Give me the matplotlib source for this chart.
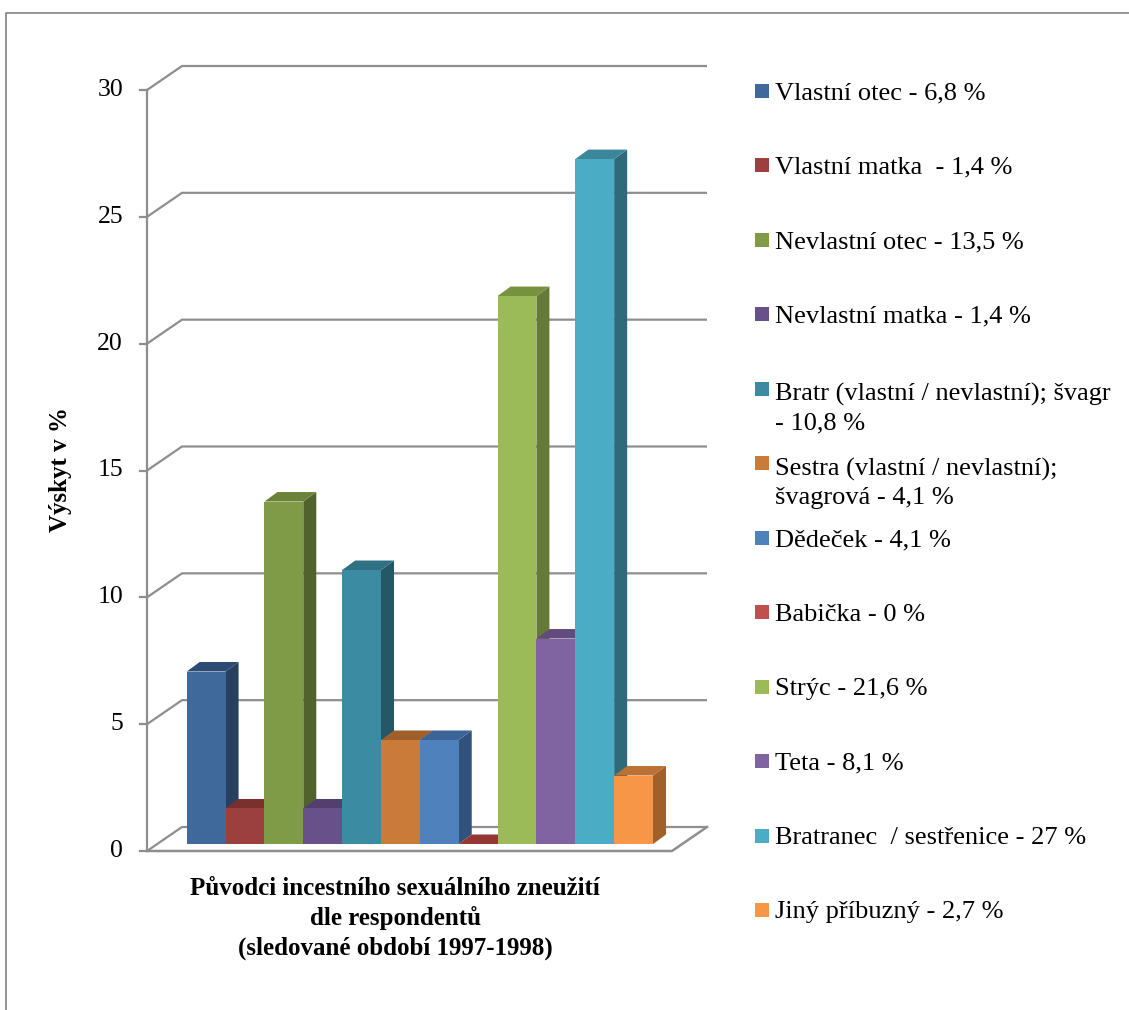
import matplotlib
matplotlib.use("Agg")
import matplotlib.pyplot as plt
from matplotlib.patches import Polygon, Rectangle
from matplotlib.lines import Line2D

# ---- data ----
categories = [
    "Vlastní otec - 6,8 %",
    "Vlastní matka  - 1,4 %",
    "Nevlastní otec - 13,5 %",
    "Nevlastní matka - 1,4 %",
    "Bratr (vlastní / nevlastní); švagr\n- 10,8 %",
    "Sestra (vlastní / nevlastní);\nšvagrová - 4,1 %",
    "Dědeček - 4,1 %",
    "Babička - 0 %",
    "Strýc - 21,6 %",
    "Teta - 8,1 %",
    "Bratranec  / sestřenice - 27 %",
    "Jiný příbuzný - 2,7 %",
]
values = [6.8, 1.4, 13.5, 1.4, 10.8, 4.1, 4.1, 0.0, 21.6, 8.1, 27.0, 2.7]
y_ticks = [0, 5, 10, 15, 20, 25, 30]
y_label = "Výskyt v %"
x_title = "Původci incestního sexuálního zneužití\ndle respondentů\n(sledované období 1997-1998)"

front_colors = ["#3F689B", "#9B403E", "#809B47", "#68518A", "#3B8CA3", "#CB7B39",
                "#4F81BD", "#C0504D", "#9BBB59", "#8064A2", "#4BACC6", "#F79646"]
side_colors = ["#283F5E", "#6E2C2B", "#52622D", "#47385F", "#255867", "#8F5628",
               "#31527A", "#8A3937", "#657A36", "#5A466F", "#2F6A7A", "#A15F2A"]
top_colors = ["#2D4C75", "#7A302F", "#6B8339", "#533F6F", "#2F7083", "#9E5F2B",
              "#3D6496", "#943836", "#77923F", "#624C7D", "#3A879C", "#BB7133"]

W, H = 1129, 1010
FONT = "Liberation Serif"
GRID = "#8E8E8E"

fig = plt.figure(figsize=(W / 100, H / 100), dpi=100)
fx = lambda x: x / W
fy = lambda y: 1 - y / H

# axes: front plane of the value axis
ax_left_px, ax_right_px, ax_top_px, ax_bot_px = 147, 672, 90, 851
ax = fig.add_axes([fx(ax_left_px), fy(ax_bot_px), (ax_right_px - ax_left_px) / W,
                   (ax_bot_px - ax_top_px) / H])
ax.axis("off")
bar_px = 38.86
px_per_unit = (ax_bot_px - ax_top_px) / 30.0
xl = -0.5 - (176.5 - ax_left_px) / bar_px
xr = xl + (ax_right_px - ax_left_px) / bar_px
ax.set_xlim(xl, xr)
ax.set_ylim(0, 30)

# depth offsets (data units)
def off(dx_px, dy_px):
    return dx_px / bar_px, dy_px / px_per_unit

wall_dx, wall_dy = off(35, 24)
bar_ox, bar_oy = off(10.2, 7)
dep_dx, dep_dy = off(13, 9.5)

# back wall gridlines with left wall diagonals
for v in y_ticks:
    xs = [xl, xl + wall_dx, xr + wall_dx]
    ys = [v, v + wall_dy, v + wall_dy]
    ax.plot(xs, ys, color=GRID, lw=1.6, clip_on=False, solid_capstyle="butt", zorder=1)

# floor front edge and right diagonal
ax.plot([xl, xr, xr + wall_dx], [0, 0, wall_dy], color=GRID, lw=1.8, clip_on=False, zorder=1)

# value axis line and ticks
ax.plot([xl, xl], [0, 30], color=GRID, lw=1.6, clip_on=False, zorder=1)
tick_len = 7 / bar_px
for v in y_ticks:
    ax.plot([xl - tick_len, xl], [v, v], color=GRID, lw=1.6, clip_on=False, zorder=1)
    ax.text(xl - 24 / bar_px, v, str(v), ha="right", va="center",
            fontsize=18.5, family=FONT, clip_on=False)

# bars (left to right; later bars overlap earlier side faces)
z = 2
for i, v in enumerate(values):
    x0 = i - 0.5 + bar_ox
    x1 = i + 0.5 + bar_ox
    yb = bar_oy
    yt = bar_oy + v
    side = Polygon([(x1, yb), (x1 + dep_dx, yb + dep_dy), (x1 + dep_dx, yt + dep_dy), (x1, yt)],
                   closed=True, facecolor=side_colors[i], edgecolor="none", clip_on=False, zorder=z)
    top = Polygon([(x0, yt), (x1, yt), (x1 + dep_dx, yt + dep_dy), (x0 + dep_dx, yt + dep_dy)],
                  closed=True, facecolor=top_colors[i], edgecolor="none", clip_on=False, zorder=z + 0.1)
    ax.add_patch(side)
    ax.add_patch(top)
    ax.bar(i + bar_ox, v, width=1.0, bottom=bar_oy, color=front_colors[i],
           edgecolor="none", clip_on=False, zorder=z + 0.2)
    z += 1

# y label
fig.text(fx(60), fy(470), y_label, rotation=90, ha="center", va="center",
         fontsize=18, fontweight="bold", family=FONT)

# x title
fig.text(fx(395), fy(877), x_title, ha="center", va="top", fontsize=18,
         fontweight="bold", family=FONT, linespacing=1.33)

# legend
line_gap = 32
for i, lab in enumerate(categories):
    yc = 91 + 74.45 * i
    n = lab.count("\n")
    fig.add_artist(Rectangle((fx(755), fy(yc + 7)), 14 / W, 14 / H,
                             facecolor=front_colors[i], edgecolor="none",
                             transform=fig.transFigure))
    fig.text(fx(775), fy(yc + 8.5 + n * line_gap), lab, ha="left", va="baseline",
             fontsize=19, family=FONT, linespacing=1.36)

# outer border
fig.add_artist(Line2D([fx(6), fx(6), fx(W + 5)], [fy(H + 5), fy(13), fy(13)],
                      color="#8C8C8C", lw=1.3, transform=fig.transFigure))

fig.savefig("out.png", dpi=100)
